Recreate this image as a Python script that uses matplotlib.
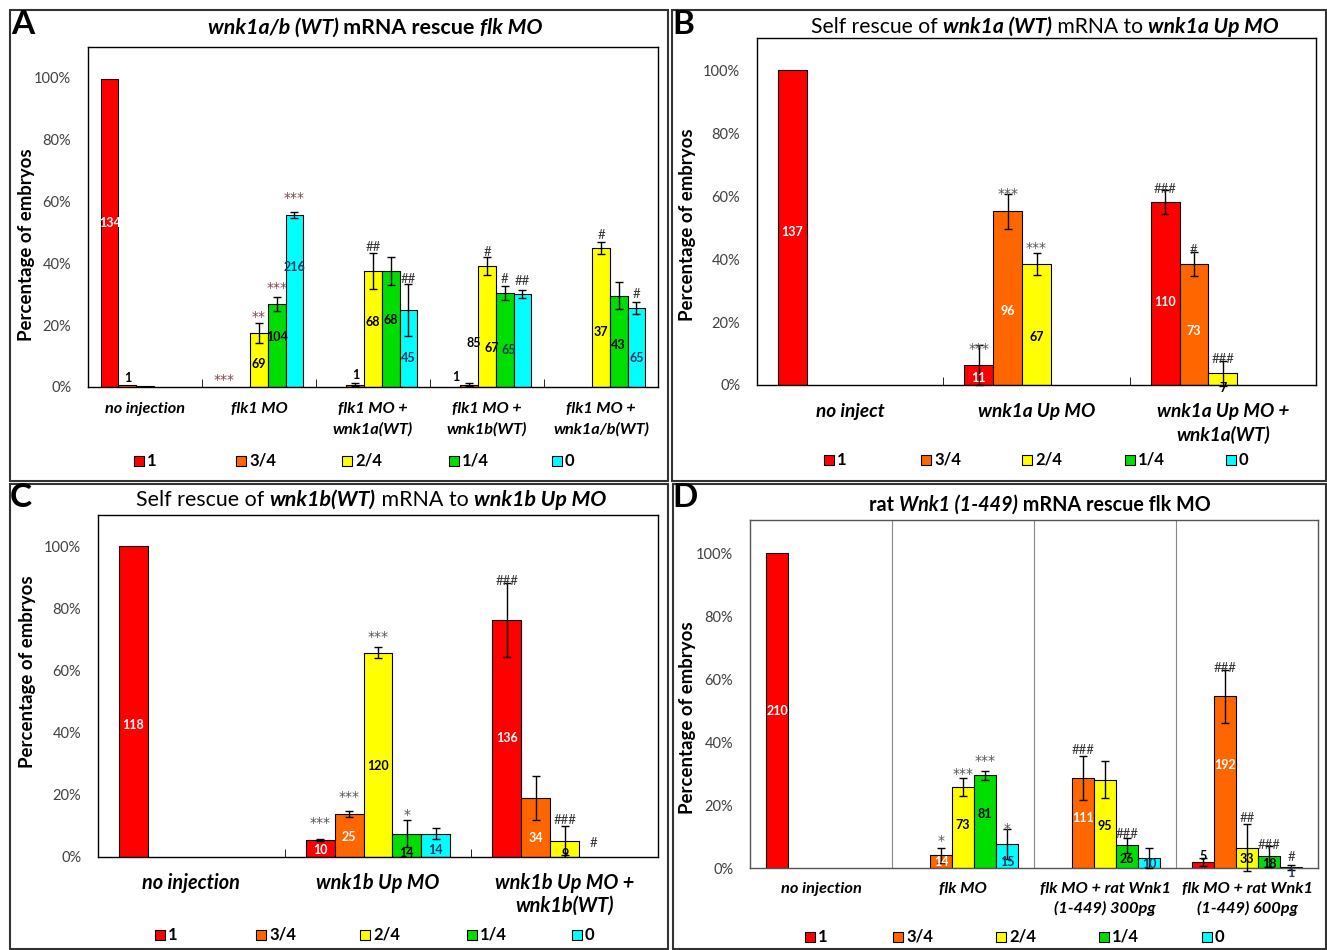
import numpy as np
import matplotlib
matplotlib.use('Agg')
import matplotlib.pyplot as plt
from matplotlib.patches import Rectangle

W, H = 1327, 950
nan = np.nan

series = ['1', '3/4', '2/4', '1/4', '0']
colors = ['#ff0000', '#ff6600', '#ffff00', '#00dd00', '#00ffff']

# ---- panel A : wnk1a/b (WT) mRNA rescue flk MO  (rows = series 1, 3/4, 2/4, 1/4, 0)
a_groups = ['no injection', 'flk1 MO', 'flk1 MO +\nwnk1a(WT)', 'flk1 MO +\nwnk1b(WT)', 'flk1 MO +\nwnk1a/b(WT)']
a_vals = [[99.5, nan, nan, nan, nan],
          [0.6, nan, 0.7, 0.7, nan],
          [0.3, 17.4, 37.4, 39.0, 44.8],
          [nan, 26.8, 37.4, 30.4, 29.5],
          [nan, 55.5, 24.8, 30.0, 25.5]]
a_err = [[0, 0, 0, 0, 0],
         [0, 0, 0.5, 0.5, 0],
         [0, 3.2, 5.8, 2.9, 2.0],
         [0, 2.3, 4.6, 2.3, 4.3],
         [0, 1.1, 8.4, 1.3, 1.9]]
a_n = [['134', '', '', '', ''],
       ['1', '', '1', '1', ''],
       ['', '69', '68', '85', '37'],
       ['', '104', '68', '67', '43'],
       ['', '216', '45', '65', '65']]
a_n_y = [[53, 0, 0, 0, 0],
         [2.8, 0, 3.9, 3.3, 0],
         [0, 7.4, 21, 14.2, 17.8],
         [0, 16.2, 21.6, 12.6, 13.5],
         [0, 38.7, 9.4, 12, 9.4]]
a_n_dx = [0, 0, 0, -0.75, 0]
a_sig = [['', '***', '', '', ''],
         ['', '', '', '', ''],
         ['', '**', '##', '#', '#'],
         ['', '***', '', '#', ''],
         ['', '***', '##', '##', '#']]
a_sig_y = [[0, 2.2, 0, 0, 0],
           [0, 0, 0, 0, 0],
           [0, 22.7, 45.3, 43.6, 49],
           [0, 31.9, 0, 34.8, 0],
           [0, 60.9, 34.8, 34.2, 30]]

# ---- panel B : self rescue wnk1a
b_groups = ['no inject', 'wnk1a Up MO', 'wnk1a Up MO +\nwnk1a(WT)']
b_vals = [[100, 6.3, 58],
          [nan, 55.2, 38.4],
          [nan, 38.4, 3.7],
          [nan, nan, nan],
          [nan, nan, nan]]
b_err = [[0, 6.4, 3.8],
         [0, 5.6, 3.7],
         [0, 3.4, 3.9],
         [0, 0, 0],
         [0, 0, 0]]
b_n = [['137', '11', '110'],
       ['', '96', '73'],
       ['', '67', '7'],
       ['', '', ''],
       ['', '', '']]
b_n_y = [[48.7, 2.3, 26.4],
         [0, 23.5, 17.1],
         [0, 15.3, -0.8],
         [0, 0, 0],
         [0, 0, 0]]
b_sig = [['', '***', '###'],
         ['', '***', '#'],
         ['', '***', '###'],
         ['', '', ''],
         ['', '', '']]
b_sig_y = [[0, 11.4, 62.2],
           [0, 60.5, 42.9],
           [0, 43.6, 8.1],
           [0, 0, 0],
           [0, 0, 0]]

# ---- panel C : self rescue wnk1b
c_groups = ['no injection', 'wnk1b Up MO', 'wnk1b Up MO +\nwnk1b(WT)']
c_vals = [[100, 5.4, 76.2],
          [nan, 13.9, 19.0],
          [nan, 65.7, 5.2],
          [nan, 7.5, nan],
          [nan, 7.5, nan]]
c_err = [[0, 0.3, 12],
         [0, 0.9, 7],
         [0, 1.8, 4.7],
         [0, 4.3, 0],
         [0, 1.8, 0]]
c_n = [['118', '10', '136'],
       ['', '25', '34'],
       ['', '120', '9'],
       ['', '14', ''],
       ['', '14', '']]
c_n_y = [[42.4, 2.4, 38.3],
         [0, 6.4, 6.1],
         [0, 29.2, 1.0],
         [0, 1.2, 0],
         [0, 2.4, 0]]
c_sig = [['', '***', '###'],
         ['', '***', ''],
         ['', '***', '###'],
         ['', '*', '#'],
         ['', '', '']]
c_sig_y = [[0, 10.9, 88.7],
           [0, 19.3, 0],
           [0, 70.8, 11.8],
           [0, 13.4, 4.5],
           [0, 0, 0]]

# ---- panel D : rat Wnk1 (1-449) rescue
d_groups = ['no injection', 'flk MO', 'flk MO + rat Wnk1\n(1-449) 300pg', 'flk MO + rat Wnk1\n(1-449) 600pg']
d_vals = [[100, nan, nan, 1.9],
          [nan, 4.0, 28.6, 54.6],
          [nan, 25.7, 28.0, 6.5],
          [nan, 29.4, 7.2, 3.7],
          [nan, 7.5, 3.2, 0.3]]
d_err = [[0, 0, 0, 1.2],
         [0, 2.3, 7.0, 8.4],
         [0, 2.9, 5.9, 7.6],
         [0, 1.4, 2.4, 3.3],
         [0, 4.8, 3.1, 0.8]]
d_n = [['210', '', '', '5'],
       ['', '14', '111', '192'],
       ['', '73', '95', '33'],
       ['', '81', '26', '18'],
       ['', '15', '10', '1']]
d_n_y = [[49.7, 0, 0, 3.7],
         [0, 1.9, 15.9, 32.6],
         [0, 13.5, 13.2, 3.0],
         [0, 17.2, 3.0, 1.4],
         [0, 1.9, 1.4, -1.6]]
d_sig = [['', '', '', ''],
         ['', '*', '###', '###'],
         ['', '***', '', '##'],
         ['', '***', '###', '###'],
         ['', '*', '', '#']]
d_sig_y = [[0, 0, 0, 0],
           [0, 8.6, 37.6, 63.6],
           [0, 29.9, 0, 16],
           [0, 34, 10.7, 7.2],
           [0, 12.3, 0, 3.5]]

plt.rcParams['font.family'] = ['Lato', 'DejaVu Sans']

fig = plt.figure(figsize=(W / 100, H / 100), dpi=100)
fig.patch.set_facecolor('white')


def fx(x):
    return x / W


def fy(y):
    return 1 - y / H


def make_axes(l, t, r, b):
    return fig.add_axes([fx(l), fy(b), (r - l) / W, (b - t) / H])


def draw_panel(ax, groups, vals, err, n, n_y, sig, sig_y, top, n_dx=None,
               cat_size=11, cat_off=0.04, cat_ls=1.3, spine='black', sig_color='#555555'):
    x = np.arange(len(groups))
    bw = 0.155
    for i in range(5):
        xs = x + (i - 2) * bw
        v = np.array(vals[i], float)
        e = np.array(err[i], float)
        ax.bar(xs, v, bw, color=colors[i], edgecolor='black', linewidth=0.8, zorder=2)
        m = e > 0
        if m.any():
            ax.errorbar(xs[m], v[m], yerr=e[m], fmt='none', ecolor='black', elinewidth=1,
                        capsize=3, capthick=1, zorder=3, clip_on=False)
        for j in range(len(groups)):
            if n[i][j]:
                dx = n_dx[j] * bw if n_dx else 0
                inside = n_y[i][j] < v[j] if not np.isnan(v[j]) else False
                if i == 4:
                    c = '#1f3a66'
                elif i < 2 and inside:
                    c = 'white'
                else:
                    c = 'black'
                ax.text(xs[j] + dx, n_y[i][j], n[i][j], ha='center', va='center',
                        fontsize=9, color=c, weight='bold', zorder=4)
            if sig[i][j]:
                if '*' in sig[i][j]:
                    ax.text(xs[j], sig_y[i][j], sig[i][j], ha='center', va='center',
                            fontsize=10, color=sig_color, family='DejaVu Sans', zorder=4)
                else:
                    ax.text(xs[j], sig_y[i][j], sig[i][j], ha='center', va='center',
                            fontsize=9.5, color='#333333', zorder=4)
    ax.set_xlim(-0.5, len(groups) - 0.5)
    ax.set_ylim(0, top)
    ax.set_yticks(range(0, 101, 20))
    ax.set_yticklabels([f'{t}%' for t in range(0, 101, 20)])
    ax.tick_params(axis='y', length=0, pad=12, labelsize=10.5, labelcolor='#404040')
    ax.set_xticks([])
    for s in ax.spines.values():
        s.set_color(spine)
        s.set_linewidth(1)
    for j, g in enumerate(groups):
        ax.text(j, -cat_off, g, transform=ax.get_xaxis_transform(), ha='center', va='top',
                fontsize=cat_size, style='italic', weight='bold', linespacing=cat_ls)


renderer = fig.canvas.get_renderer()


def text_width(s, size, style, weight):
    t1 = fig.text(0, 0, '|' + s + '|', fontsize=size, style=style, weight=weight)
    t2 = fig.text(0, 0, '||', fontsize=size, style=style, weight=weight)
    w = t1.get_window_extent(renderer).width - t2.get_window_extent(renderer).width
    t1.remove()
    t2.remove()
    return w


def rich_title(cx, cy, parts, size):
    widths = [text_width(s, size, st, wt) for s, st, wt in parts]
    x = cx - sum(widths) / 2
    for (s, st, wt), w in zip(parts, widths):
        fig.text(fx(x), fy(cy), s, fontsize=size, style=st, weight=wt, ha='left', va='center')
        x += w


def legend_row(xs, y, size=12):
    for name, c, x in zip(series, colors, xs):
        fig.add_artist(Rectangle((fx(x - 5), fy(y + 5)), 10 / W, 10 / H, facecolor=c,
                                 edgecolor='black', linewidth=0.8, transform=fig.transFigure))
        fig.text(fx(x + 8), fy(y), name, fontsize=size, weight='bold', ha='left', va='center')


# panel frames
for l, t, r, b in [(10, 10, 668, 481), (672, 10, 1326, 481), (10, 484, 668, 949), (673, 484, 1326, 949)]:
    fig.add_artist(Rectangle((fx(l), fy(b)), (r - l) / W, (b - t) / H, fill=False,
                             edgecolor='#333333', linewidth=1.5, transform=fig.transFigure))

# A
axA = make_axes(88, 47, 658, 387)
draw_panel(axA, a_groups, a_vals, a_err, a_n, a_n_y, a_sig, a_sig_y, 109.7, n_dx=a_n_dx,
           cat_size=11.7, cat_off=15 / 340, cat_ls=1.5, sig_color='#7a4a4a')
axA.set_xticks(np.arange(0.5, len(a_groups) - 0.5), minor=True)
axA.tick_params(axis='x', which='minor', direction='in', length=6)

# B
axB = make_axes(757, 38, 1316, 385)
draw_panel(axB, b_groups, b_vals, b_err, b_n, b_n_y, b_sig, b_sig_y, 110.2,
           cat_size=13.7, cat_off=18 / 347, cat_ls=1.37)
axB.set_xticks(np.arange(0.5, len(b_groups) - 0.5), minor=True)
axB.tick_params(axis='x', which='minor', direction='in', length=6)

# C
axC = make_axes(98, 515, 658, 857)
draw_panel(axC, c_groups, c_vals, c_err, c_n, c_n_y, c_sig, c_sig_y, 110.0,
           cat_size=14.3, cat_off=16 / 342, cat_ls=1.2)
axC.set_xticks(np.arange(0.5, len(c_groups) - 0.5), minor=True)
axC.tick_params(axis='x', which='minor', direction='in', length=6)

# D
axD = make_axes(750, 520, 1318, 868)
draw_panel(axD, d_groups, d_vals, d_err, d_n, d_n_y, d_sig, d_sig_y, 110.5,
           cat_size=11.8, cat_off=14 / 348, cat_ls=1.45, spine='#555555')
for xv in np.arange(0.5, len(d_groups) - 0.5):
    axD.axvline(xv, color='#888888', linewidth=0.8, zorder=1)

# titles
rich_title(375, 28, [('wnk1a/b (WT)', 'italic', 'bold'), (' mRNA rescue ', 'normal', 'bold'),
                     ('flk MO', 'italic', 'bold')], 15.4)
rich_title(1045, 27, [('Self rescue of ', 'normal', 'normal'), ('wnk1a (WT)', 'italic', 'bold'),
                      (' mRNA to ', 'normal', 'normal'), ('wnk1a Up MO', 'italic', 'bold')], 15.2)
rich_title(371, 500, [('Self rescue of ', 'normal', 'normal'), ('wnk1b(WT)', 'italic', 'bold'),
                      (' mRNA to ', 'normal', 'normal'), ('wnk1b Up MO', 'italic', 'bold')], 15.4)
rich_title(1040, 505, [('rat ', 'normal', 'bold'), ('Wnk1 (1-449)', 'italic', 'bold'),
                       (' mRNA rescue flk MO', 'normal', 'bold')], 14.2)

# panel letters
for letter, x, y in [('A', 11, 24), ('B', 672, 24), ('C', 10, 497), ('D', 672, 497)]:
    fig.text(fx(x), fy(y), letter, fontsize=24, weight='bold', ha='left', va='center')

# y labels
for x, y in [(27, 245), (688, 225), (28, 672), (688, 718)]:
    fig.text(fx(x), fy(y), 'Percentage of embryos', rotation=90, ha='center', va='center',
             fontsize=13.4, weight='bold')

# legends
legend_row([139, 241, 347, 454, 557], 461)
legend_row([829, 926, 1027, 1130, 1231], 460)
legend_row([160, 261, 365, 472, 577], 935)
legend_row([810, 898, 1001, 1104, 1207], 937)

fig.savefig('out.png', dpi=100, facecolor='white')
